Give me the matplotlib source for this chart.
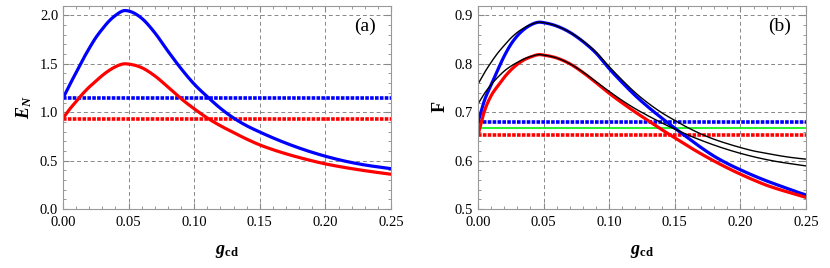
import numpy as np
import matplotlib
matplotlib.use("Agg")
import matplotlib.pyplot as plt
from matplotlib.ticker import MultipleLocator, FormatStrFormatter

plt.rcParams['font.family'] = ['Liberation Serif', 'DejaVu Serif']
plt.rcParams['mathtext.fontset'] = 'custom'
plt.rcParams['mathtext.rm'] = 'Liberation Serif'
plt.rcParams['mathtext.it'] = 'Liberation Serif:italic'
plt.rcParams['mathtext.bf'] = 'Liberation Serif:bold'
plt.rcParams['mathtext.bfit'] = 'Liberation Serif:bold:italic'

# coupling g_cd
g = [0.0, 0.005, 0.01, 0.015, 0.02, 0.025, 0.03, 0.035, 0.04, 0.047, 0.05,
     0.06, 0.07, 0.08, 0.09, 0.10, 0.11, 0.12, 0.13, 0.14, 0.15,
     0.16, 0.17, 0.18, 0.19, 0.20, 0.21, 0.22, 0.23, 0.24, 0.25]

# (a) logarithmic negativity
en_blue = [1.145, 1.28, 1.41, 1.54, 1.66, 1.77, 1.86, 1.94, 2.00, 2.05, 2.045,
           1.97, 1.82, 1.63, 1.45, 1.29, 1.16, 1.04, 0.94, 0.86, 0.795,
           0.735, 0.68, 0.63, 0.585, 0.545, 0.51, 0.48, 0.455, 0.435, 0.417]
en_red = [0.938, 1.03, 1.11, 1.19, 1.26, 1.32, 1.38, 1.43, 1.47, 1.50, 1.497,
          1.46, 1.375, 1.26, 1.14, 1.035, 0.94, 0.86, 0.79, 0.722, 0.662,
          0.613, 0.57, 0.532, 0.497, 0.466, 0.44, 0.417, 0.396, 0.377, 0.359]
en_blue_ref = 1.145
en_red_ref = 0.934

# (b) fidelity
f_blue = [0.679, 0.725, 0.756, 0.787, 0.816, 0.840, 0.858, 0.871, 0.880, 0.886, 0.885,
          0.878, 0.865, 0.846, 0.822, 0.790, 0.761, 0.734, 0.710, 0.688, 0.667,
          0.647, 0.627, 0.609, 0.594, 0.581, 0.569, 0.558, 0.548, 0.538, 0.529]
f_red = [0.653, 0.703, 0.734, 0.754, 0.772, 0.787, 0.799, 0.808, 0.814, 0.819, 0.818,
         0.812, 0.800, 0.782, 0.761, 0.739, 0.719, 0.700, 0.682, 0.664, 0.647,
         0.630, 0.614, 0.599, 0.585, 0.572, 0.560, 0.549, 0.540, 0.532, 0.524]
f_blue_approx = [0.758, 0.782, 0.803, 0.822, 0.838, 0.853, 0.865, 0.874, 0.881, 0.886, 0.885,
                 0.878, 0.865, 0.847, 0.824, 0.794, 0.766, 0.740, 0.718, 0.699, 0.683,
                 0.668, 0.655, 0.644, 0.635, 0.627, 0.620, 0.615, 0.610, 0.606, 0.603]
f_red_approx = [0.717, 0.739, 0.757, 0.772, 0.785, 0.795, 0.803, 0.810, 0.815, 0.819, 0.818,
                0.812, 0.800, 0.783, 0.763, 0.743, 0.724, 0.707, 0.692, 0.678, 0.665,
                0.653, 0.642, 0.632, 0.623, 0.615, 0.608, 0.602, 0.597, 0.593, 0.589]
f_blue_ref = 0.679
f_red_ref = 0.653
f_classical = 2.0 / 3.0

BLUE = (0, 0, 1)
RED = (1, 0, 0)
GREEN = (0, 0.95, 0)
dense = (0, (1.0, 0.35))


def smooth(x, y, n=400):
    # cubic hermite through the read-off points
    x = np.asarray(x)
    y = np.asarray(y)
    xs = np.linspace(x[0], x[-1], n)
    m = np.gradient(y, x)
    idx = np.clip(np.searchsorted(x, xs) - 1, 0, len(x) - 2)
    h = x[idx + 1] - x[idx]
    t = (xs - x[idx]) / h
    h00 = 2 * t**3 - 3 * t**2 + 1
    h10 = t**3 - 2 * t**2 + t
    h01 = -2 * t**3 + 3 * t**2
    h11 = t**3 - t**2
    ys = h00 * y[idx] + h10 * h * m[idx] + h01 * y[idx + 1] + h11 * h * m[idx + 1]
    return xs, ys


def style_axes(ax, ymaj, ymin, yfmt):
    ax.set_xlim(0, 0.25)
    ax.xaxis.set_major_locator(MultipleLocator(0.05))
    ax.xaxis.set_minor_locator(MultipleLocator(0.01))
    ax.xaxis.set_major_formatter(FormatStrFormatter('%.2f'))
    ax.yaxis.set_major_locator(MultipleLocator(ymaj))
    ax.yaxis.set_minor_locator(MultipleLocator(ymin))
    ax.yaxis.set_major_formatter(FormatStrFormatter(yfmt))
    ax.tick_params(which='both', direction='in', top=True, right=True,
                   color='#888888', labelsize=10.5)
    ax.tick_params(axis='x', pad=5)
    ax.tick_params(which='major', length=4)
    ax.tick_params(which='minor', length=2)
    ax.grid(True, which='major', linestyle=(0, (4, 3)), color='#888888', lw=0.7)
    for s in ax.spines.values():
        s.set_color('#999999')
        s.set_linewidth(0.8)


fig = plt.figure(figsize=(8.3, 2.68), dpi=100)
ax1 = fig.add_axes([0.0759, 0.2201, 0.3952, 0.7586])
ax2 = fig.add_axes([0.5759, 0.2201, 0.3952, 0.7586])

# panel (a)
ax1.axhline(en_blue_ref, color=BLUE, lw=2.6, ls=dense)
ax1.axhline(en_red_ref, color=RED, lw=2.6, ls=dense)
ax1.plot(*smooth(g, en_blue), color=BLUE, lw=2.3)
ax1.plot(*smooth(g, en_red), color=RED, lw=2.3)
ax1.set_ylim(0, 2.1)
style_axes(ax1, 0.5, 0.1, '%.1f')
ax1.set_ylabel(r'$\mathbfit{E}_{\mathbfit{N}}$', fontsize=13, labelpad=4)
ax1.set_xlabel(r'$\mathbfit{g}_{\mathbf{cd}}$', fontsize=13, labelpad=10)
ax1.text(0.92, 0.9, '(a)', transform=ax1.transAxes, fontsize=14,
         ha='center', va='center')

# panel (b)
ax2.axhline(f_blue_ref, color=BLUE, lw=2.6, ls=dense)
ax2.axhline(f_red_ref, color=RED, lw=2.6, ls=dense)
ax2.axhline(f_classical, color=GREEN, lw=1.2)
ax2.plot(*smooth(g, f_blue), color=BLUE, lw=2.3)
ax2.plot(*smooth(g, f_red), color=RED, lw=2.3)
ax2.plot(*smooth(g, f_blue_approx), color='black', lw=1.0)
ax2.plot(*smooth(g, f_red_approx), color='black', lw=1.0)
ax2.set_ylim(0.5, 0.92)
style_axes(ax2, 0.1, 0.02, '%.1f')
ax2.set_ylabel(r'$\mathbf{F}$', fontsize=13, labelpad=4)
ax2.set_xlabel(r'$\mathbfit{g}_{\mathbf{cd}}$', fontsize=13, labelpad=10)
ax2.text(0.92, 0.9, '(b)', transform=ax2.transAxes, fontsize=14,
         ha='center', va='center')

fig.savefig('out.png', dpi=100)
